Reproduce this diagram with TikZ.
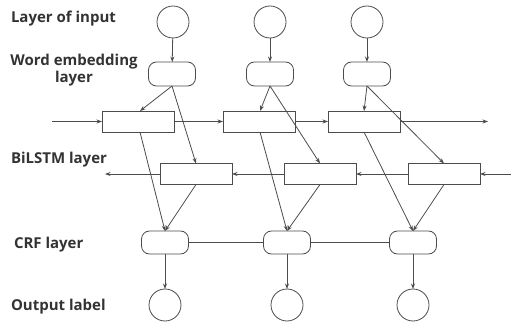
\documentclass[tikz,border=0pt]{standalone}
\usepackage{fontspec}
\setmainfont{Open Sans}
\usetikzlibrary{arrows.meta}
\begin{document}
\begin{tikzpicture}[x=1pt,y=-1pt,
  every node/.style={inner sep=0pt,outer sep=0pt},
  ln/.style={draw=black!70,line width=0.8pt},
  arr/.style={ln,-{Stealth[length=5.5pt,width=4pt]}},
  circ/.style={ln,circle,minimum size=32pt,fill=white},
  emb/.style={ln,rectangle,rounded corners=8pt,minimum width=47pt,minimum height=24pt},
  lstm/.style={ln,rectangle,minimum width=72pt,minimum height=21pt},
  crf/.style={ln,rectangle,rounded corners=8pt,minimum width=47pt,minimum height=23pt},
  lab/.style={font=\bfseries\fontsize{15pt}{17pt}\selectfont,text=black!80,align=center}
]
\useasboundingbox (0,0) rectangle (511,323);
% labels
\node[lab,anchor=west] (l1) at (11,18.5) {Layer of input};
\node[lab] (l2) at (74,70.5) {Word embedding\\layer};
\node[lab,anchor=west] (l3) at (11,159.5) {BiLSTM layer};
\node[lab,anchor=west] (l4) at (14,244.5) {CRF layer};
\node[lab,anchor=west] (l5) at (11,306.5) {Output label};
% input circles
\node[circ] (i1) at (173,22) {};
\node[circ] (i2) at (270,22) {};
\node[circ] (i3) at (367,22) {};
% embedding
\node[emb] (e1) at (172,74) {};
\node[emb] (e2) at (270,74) {};
\node[emb] (e3) at (367,74) {};
% forward lstm
\node[lstm] (f1) at (138,121.5) {};
\node[lstm] (f2) at (259,121.5) {};
\node[lstm] (f3) at (364,121.5) {};
% backward lstm
\node[lstm] (b1) at (196,174) {};
\node[lstm] (b2) at (320,174) {};
\node[lstm] (b3) at (444,174) {};
% crf
\node[crf] (c1) at (165,242.5) {};
\node[crf] (c2) at (287,242.5) {};
\node[crf] (c3) at (413,242.5) {};
% output
\node[circ] (o1) at (165,305) {};
\node[circ] (o2) at (287,305) {};
\node[circ] (o3) at (413,305) {};
% free ends
\coordinate (fin) at (52,121.5);
\coordinate (fout) at (488,121.5);
\coordinate (bin) at (511,174);
\coordinate (bout) at (105,174);
% input -> embedding
\foreach \k in {1,2,3}{\draw[arr] (i\k) -- (e\k);}
% embedding -> lstm
\draw[arr] (e1.south) -- (f1.north -| 140,0);
\draw[arr] (e1.south) -- (b1.north);
\draw[arr] (e2.south) -- (f2.north -| 260,0);
\draw[arr] (e2.south) -- (b2.north);
\draw[arr] (e3.south) -- (f3.north);
\draw[arr] (e3.south) -- (b3.north);
% forward chain
\draw[arr] (fin) -- (f1);
\draw[arr] (f1) -- (f2);
\draw[arr] (f2) -- (f3);
\draw[arr] (f3) -- (fout);
% backward chain
\draw[arr] (bin) -- (b3);
\draw[arr] (b3) -- (b2);
\draw[arr] (b2) -- (b1);
\draw[arr] (b1) -- (bout);
% lstm -> crf
\draw[arr] (f1.south -| 140,0) -- (c1.north);
\draw[arr] (b1.south) -- (c1.north);
\draw[arr] (f2.south -| 260,0) -- (c2.north);
\draw[arr] (b2.south) -- (c2.north);
\draw[arr] (f3.south) -- (c3.north);
\draw[arr] (b3.south) -- (c3.north);
% crf chain
\draw[ln] (c1) -- (c2);
\draw[ln] (c2) -- (c3);
% crf -> output
\foreach \k in {1,2,3}{\draw[arr] (c\k) -- (o\k);}
\end{tikzpicture}
\end{document}
